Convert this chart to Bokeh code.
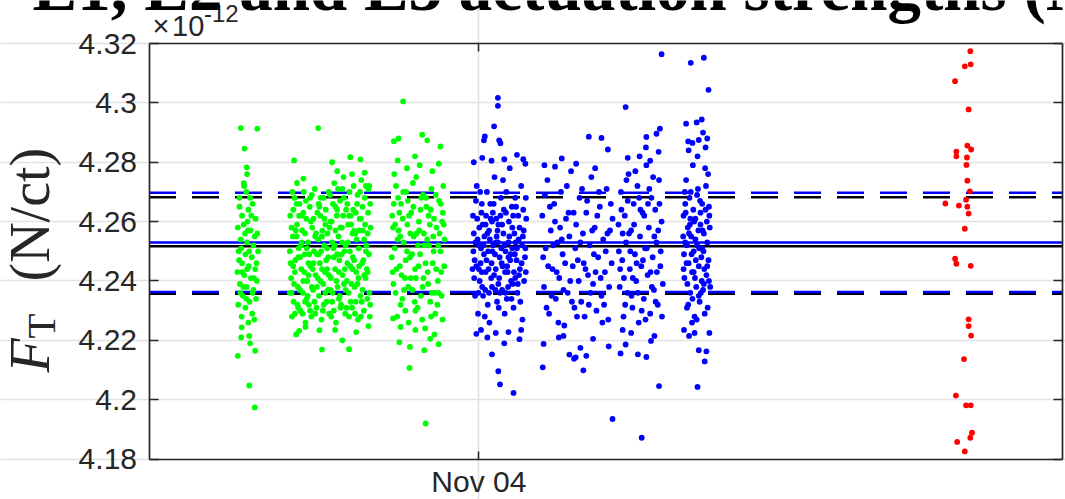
import numpy as np
import pandas as pd
from math import pi
from bokeh.plotting import figure
from bokeh.models import (Range1d, FixedTicker, DatetimeTickFormatter, DatetimeAxis,
                          LinearAxis, Grid, Label)
from bokeh.embed import file_html
from bokeh.resources import INLINE

# ---------------- data (time in minutes from Nov 04 00:00, F_T in units of 1e-12 N/ct) -------------
DAY0 = "2019-11-04T00:00"

green_points = [
    # first group
    (-566,4.268),(-550,4.270),(-535,4.266),(-560,4.262),(-545,4.264),(-528,4.261),(-570,4.258),(-556,4.259),
    (-540,4.257),(-524,4.256),(-563,4.254),(-548,4.253),(-533,4.252),(-568,4.250),(-552,4.249),(-537,4.248),
    (-522,4.250),(-560,4.246),(-544,4.245),(-529,4.244),(-571,4.243),(-555,4.242),(-539,4.241),(-525,4.240),
    (-565,4.239),(-549,4.238),(-533,4.237),(-558,4.235),(-542,4.233),(-527,4.234),(-569,4.232),(-552,4.231),
    (-536,4.229),(-561,4.228),(-545,4.226),(-531,4.227),(-566,4.265),(-541,4.268),(-555,4.272),(-530,4.255),
    (-547,4.260),(-562,4.251),(-538,4.262),(-526,4.246),(-553,4.256),(-567,4.247),(-543,4.250),(-532,4.241),
    (-557,4.238),(-548,4.244),(-535,4.236),(-564,4.236),(-550,4.234),(-560,4.243),(-546,4.257),
    (-563,4.2915),(-524,4.2913),(-554,4.2846),(-549,4.2783),(-548,4.2760),(-556,4.2730),(-561,4.2244),
    (-562,4.2210),(-543,4.2215),(-541,4.2190),(-529,4.2165),(-570,4.2148),(-543,4.2048),(-530,4.1974),
    # second group
    (-446,4.262),(-444,4.241),(-442,4.228),(-440,4.255),(-438,4.233),(-436,4.268),(-434,4.247),(-432,4.222),
    (-430,4.259),(-428,4.238),(-426,4.251),(-424,4.266),(-422,4.230),(-420,4.244),(-418,4.257),(-416,4.236),
    (-414,4.270),(-412,4.249),(-410,4.226),(-408,4.261),(-406,4.240),(-404,4.253),(-402,4.232),(-400,4.265),
    (-398,4.245),(-396,4.228),(-394,4.258),(-392,4.237),(-390,4.250),(-388,4.271),(-386,4.242),(-384,4.231),
    (-382,4.263),(-380,4.254),(-378,4.235),(-376,4.246),(-374,4.268),(-372,4.227),(-370,4.257),(-368,4.239),
    (-366,4.252),(-364,4.243),(-362,4.264),(-360,4.233),(-358,4.256),(-356,4.248),(-354,4.229),(-352,4.269),
    (-350,4.241),(-348,4.260),(-346,4.236),(-344,4.251),(-342,4.273),(-340,4.244),(-338,4.226),(-336,4.262),
    (-334,4.238),(-332,4.255),(-330,4.247),(-328,4.267),(-326,4.232),(-324,4.258),(-322,4.242),(-320,4.275),
    (-318,4.250),(-316,4.229),(-314,4.264),(-312,4.240),(-310,4.253),(-308,4.236),(-306,4.270),(-304,4.245),
    (-302,4.259),(-300,4.231),(-298,4.248),(-296,4.272),(-294,4.238),(-292,4.256),(-290,4.243),(-288,4.266),
    (-286,4.227),(-284,4.251),(-282,4.261),(-280,4.235),(-278,4.274),(-276,4.246),(-274,4.257),(-272,4.230),
    (-270,4.268),(-268,4.241),(-266,4.252),(-264,4.234),(-262,4.263),(-260,4.249),(-258,4.228),(-256,4.258),
    (-447,4.250),(-443,4.236),(-439,4.264),(-435,4.243),(-431,4.255),(-427,4.231),(-423,4.248),(-419,4.262),
    (-415,4.240),(-411,4.256),(-407,4.234),(-403,4.246),(-399,4.268),(-395,4.238),(-391,4.261),(-387,4.229),
    (-383,4.249),(-379,4.266),(-375,4.240),(-371,4.255),(-367,4.232),(-363,4.259),(-359,4.244),(-355,4.270),
    (-351,4.237),(-347,4.253),(-343,4.230),(-339,4.265),(-335,4.249),(-331,4.234),(-327,4.258),(-323,4.271),
    (-319,4.239),(-315,4.252),(-311,4.266),(-307,4.228),(-303,4.262),(-299,4.244),(-295,4.257),(-291,4.233),
    (-287,4.269),(-283,4.245),(-279,4.261),(-275,4.237),(-271,4.254),(-267,4.272),(-263,4.243),(-259,4.236),
    (-257,4.266),
    (-445,4.246),(-441,4.270),(-437,4.239),(-433,4.257),(-429,4.232),(-425,4.262),(-421,4.252),(-417,4.229),
    (-413,4.243),(-409,4.267),(-405,4.235),(-401,4.249),(-397,4.260),(-393,4.244),(-389,4.233),(-385,4.256),
    (-381,4.241),(-377,4.265),(-373,4.250),(-369,4.230),(-365,4.261),(-361,4.247),(-357,4.237),(-353,4.258),
    (-349,4.228),(-345,4.266),(-341,4.252),(-337,4.240),(-333,4.271),(-329,4.235),(-325,4.249),(-321,4.262),
    (-317,4.244),(-313,4.231),(-309,4.259),(-305,4.250),(-301,4.239),(-297,4.264),(-293,4.229),(-289,4.254),
    (-285,4.241),(-281,4.270),(-277,4.233),(-273,4.247),(-269,4.259),(-265,4.244),(-261,4.271),(-257,4.232),
    (-447,4.236),(-443,4.258),(-439,4.245),(-435,4.229),(-431,4.266),(-427,4.248),(-423,4.237),(-419,4.253),
    (-415,4.263),(-411,4.233),(-407,4.251),(-403,4.242),(-399,4.230),(-395,4.269),(-391,4.246),(-387,4.255),
    (-383,4.238),(-379,4.249),(-375,4.262),(-371,4.244),(-367,4.268),(-363,4.236),(-359,4.251),(-355,4.242),
    (-351,4.260),(-347,4.233),(-343,4.248),(-339,4.257),(-335,4.264),(-331,4.243),(-327,4.231),(-323,4.253),
    (-319,4.268),(-315,4.237),(-311,4.246),(-307,4.262),(-303,4.233),(-299,4.256),(-295,4.247),(-291,4.263),
    (-287,4.239),(-283,4.257),(-279,4.228),(-275,4.265),(-271,4.242),(-267,4.250),(-263,4.256),(-259,4.272),
    (-380,4.2915),(-437,4.2806),(-347,4.2800),(-304,4.2817),(-280,4.2810),(-371,4.2169),(-307,4.2170),
    (-323,4.2200),(-377,4.2234),(-261,4.2248),(-425,4.2232),(-410,4.2245),(-340,4.2235),(-290,4.2228),
    (-335,4.2770),(-300,4.2760),(-270,4.2765),(-415,4.2745),(-430,4.2730),
    # third group
    (-205,4.262),(-202,4.239),(-199,4.251),(-196,4.272),(-193,4.228),(-190,4.257),(-187,4.245),(-184,4.266),
    (-181,4.234),(-178,4.253),(-175,4.241),(-172,4.270),(-169,4.259),(-166,4.226),(-163,4.248),(-160,4.263),
    (-157,4.237),(-154,4.255),(-151,4.244),(-148,4.275),(-145,4.231),(-142,4.260),(-139,4.249),(-136,4.268),
    (-133,4.238),(-130,4.256),(-127,4.224),(-124,4.265),(-121,4.243),(-118,4.252),(-115,4.233),(-112,4.271),
    (-109,4.246),(-106,4.261),(-103,4.229),(-100,4.258),(-97,4.240),(-94,4.267),(-91,4.250),(-88,4.235),
    (-85,4.263),(-82,4.245),
    (-206,4.248),(-201,4.266),(-197,4.236),(-192,4.254),(-188,4.263),(-183,4.242),(-179,4.270),(-174,4.230),
    (-170,4.250),(-165,4.262),(-161,4.241),(-156,4.273),(-152,4.233),(-147,4.256),(-143,4.245),(-138,4.264),
    (-134,4.227),(-129,4.252),(-125,4.268),(-120,4.239),(-116,4.259),(-111,4.236),(-107,4.250),(-102,4.269),
    (-98,4.232),(-93,4.256),(-89,4.243),(-84,4.272),(-81,4.254),
    (-204,4.243),(-198,4.259),(-191,4.268),(-185,4.232),(-180,4.261),(-173,4.247),(-167,4.238),(-162,4.256),
    (-155,4.265),(-149,4.241),(-144,4.252),(-137,4.235),(-132,4.269),(-126,4.246),(-119,4.262),(-113,4.228),
    (-108,4.255),(-101,4.244),(-95,4.236),(-90,4.266),(-86,4.227),(-83,4.259),
    (-203,4.258),(-195,4.244),(-186,4.255),(-177,4.237),(-168,4.267),(-158,4.249),(-150,4.230),(-141,4.257),
    (-131,4.241),(-122,4.254),(-114,4.264),(-104,4.236),(-96,4.252),(-87,4.260),
    (-179,4.3005),(-201,4.2871),(-190,4.2880),(-134,4.2893),(-122,4.2874),(-91,4.2853),(-192,4.2806),
    (-151,4.2820),(-170,4.2780),(-140,4.2790),(-110,4.2770),(-95,4.2795),(-200,4.2760),
    (-203,4.2274),(-188,4.2194),(-163,4.2178),(-129,4.2167),(-95,4.2187),(-164,4.2107),(-126,4.1920),
    (-150,4.2235),(-105,4.2220),(-185,4.2245),(-115,4.2205),
]

blue_points = [
    # first group
    (-14,4.262),(-11,4.241),(-8,4.253),(-5,4.272),(-2,4.229),(1,4.258),(4,4.246),(7,4.266),(10,4.235),
    (13,4.255),(16,4.243),(19,4.270),(22,4.250),(25,4.226),(28,4.261),(31,4.238),(34,4.252),(37,4.275),
    (40,4.244),(43,4.233),(46,4.259),(49,4.248),(52,4.268),(55,4.237),(58,4.256),(61,4.229),(64,4.263),
    (67,4.245),(70,4.253),(73,4.278),(76,4.240),(79,4.258),(82,4.231),(85,4.249),(88,4.265),(91,4.236),
    (94,4.254),(97,4.244),(100,4.272),(103,4.227),(106,4.257),(109,4.248),(112,4.261),
    (-13,4.250),(-9,4.235),(-4,4.261),(0,4.244),(3,4.270),(8,4.238),(12,4.249),(17,4.262),(21,4.232),
    (26,4.254),(30,4.246),(35,4.266),(39,4.237),(44,4.257),(48,4.241),(53,4.251),(57,4.274),(62,4.243),
    (66,4.234),(71,4.260),(75,4.249),(80,4.239),(84,4.256),(89,4.247),(93,4.262),(98,4.233),(102,4.252),
    (107,4.240),(111,4.268),
    (-12,4.256),(-6,4.245),(-1,4.236),(5,4.251),(9,4.259),(14,4.228),(18,4.247),(24,4.257),(29,4.241),
    (33,4.263),(38,4.249),(42,4.255),(47,4.231),(51,4.262),(56,4.245),(60,4.252),(65,4.270),(69,4.238),
    (74,4.247),(78,4.265),(83,4.243),(87,4.253),(92,4.239),(96,4.258),(101,4.246),(105,4.264),(110,4.251),
    (-10,4.247),(-3,4.254),(2,4.240),(6,4.263),(11,4.252),(15,4.237),(20,4.256),(23,4.244),(27,4.266),
    (32,4.250),(36,4.242),(41,4.261),(45,4.253),(50,4.236),(54,4.246),(59,4.264),(63,4.250),(68,4.243),
    (72,4.255),(77,4.234),(81,4.262),(86,4.241),(90,4.251),
    (-15,4.244),(-7,4.267),(0,4.252),(7,4.243),(16,4.259),(24,4.236),(31,4.260),(40,4.253),(46,4.239),
    (55,4.259),(63,4.236),(70,4.248),(79,4.251),(86,4.268),(95,4.242),(104,4.255),(111,4.243),
    (45,4.3017),(45,4.2990),(36,4.2921),(14,4.2887),(12,4.2874),(48,4.2874),(51,4.2864),
    (-12,4.2800),(8,4.2815),(30,4.2805),(60,4.2810),(90,4.2825),(105,4.2810),(110,4.2795),
    (31,4.2153),(46,4.2096),(50,4.2052),(82,4.2023),(96,4.2204),(-6,4.2222),
    (5,4.2235),(20,4.2210),(40,4.2225),(70,4.2228),(100,4.2235),(60,4.2190),
    # second group
    (150,4.262),(154,4.238),(158,4.251),(162,4.274),(166,4.229),(170,4.257),(174,4.244),(178,4.266),
    (182,4.234),(186,4.253),(190,4.241),(194,4.270),(198,4.249),(202,4.225),(206,4.261),(210,4.236),
    (214,4.255),(218,4.277),(222,4.245),(226,4.231),(230,4.259),(234,4.247),(238,4.268),(242,4.233),
    (246,4.256),(250,4.228),(254,4.263),(258,4.242),(262,4.252),(266,4.275),(270,4.239),(274,4.258),
    (278,4.230),(282,4.248),(286,4.265),(290,4.235),(294,4.254),(298,4.243),(302,4.271),(306,4.227),
    (310,4.257),(314,4.246),
    (152,4.248),(160,4.231),(168,4.265),(176,4.252),(184,4.243),(192,4.258),(200,4.237),(208,4.272),
    (216,4.240),(224,4.263),(232,4.228),(240,4.253),(248,4.246),(256,4.267),(264,4.236),(272,4.249),
    (280,4.262),(288,4.241),(296,4.232),(304,4.256),(312,4.266),
    (156,4.269),(164,4.245),(172,4.235),(180,4.260),(188,4.226),(196,4.254),(204,4.246),(212,4.263),
    (220,4.233),(228,4.251),(236,4.240),(244,4.271),(252,4.244),(260,4.232),(268,4.257),(276,4.243),
    (284,4.270),(292,4.226),(300,4.250),(308,4.238),(316,4.261),
    (260,4.2886),(290,4.2882),(305,4.2843),(196,4.2813),(155,4.2790),(230,4.2795),(275,4.2780),(180,4.2785),
    (153,4.2188),(151,4.2109),(189,4.2210),(214,4.2152),(225,4.2138),(229,4.2143),(247,4.2099),(254,4.2148),
    (307,4.2180),(316,4.1935),(200,4.2215),(270,4.2205),(240,4.2175),
    # third group
    (330,4.259),(333,4.238),(336,4.270),(339,4.247),(342,4.228),(345,4.262),(348,4.253),(351,4.236),
    (354,4.276),(357,4.244),(360,4.257),(363,4.231),(366,4.266),(369,4.249),(372,4.240),(375,4.272),
    (378,4.226),(381,4.255),(384,4.245),(387,4.263),(390,4.234),(393,4.251),(396,4.279),(399,4.242),
    (402,4.258),(405,4.229),(408,4.268),(411,4.248),(414,4.237),(417,4.264),(420,4.253),(423,4.232),
    (426,4.274),(429,4.245),(432,4.260),(435,4.239),
    (331,4.250),(337,4.264),(343,4.241),(349,4.274),(355,4.256),(361,4.235),(367,4.259),(373,4.246),
    (379,4.268),(385,4.230),(391,4.262),(397,4.251),(403,4.271),(409,4.238),(415,4.255),(421,4.243),
    (427,4.266),(433,4.228),
    (334,4.244),(340,4.256),(346,4.232),(352,4.267),(358,4.250),(364,4.241),(370,4.277),(376,4.236),
    (382,4.264),(388,4.247),(394,4.227),(400,4.266),(406,4.243),(412,4.275),(418,4.233),(424,4.257),
    (430,4.250),
    (347,4.2986),(432,4.3164),(428,4.2913),(420,4.2896),(396,4.2885),(352,4.2815),(380,4.2820),
    (405,4.2805),(425,4.2835),(395,4.2850),
    (335,4.2156),(347,4.2186),(376,4.2153),(396,4.2144),(407,4.2198),(426,4.2046),(385,4.1872),
    (360,4.2225),(415,4.2215),(340,4.2235),
    # fourth group
    (484,4.262),(486,4.241),(488,4.253),(490,4.274),(492,4.231),(494,4.258),(496,4.246),(498,4.268),
    (500,4.236),(502,4.255),(504,4.243),(506,4.279),(508,4.250),(510,4.228),(512,4.261),(514,4.238),
    (516,4.252),(518,4.271),(520,4.245),(522,4.233),(524,4.259),(526,4.248),(528,4.266),(530,4.237),
    (532,4.256),(534,4.229),(536,4.264),(538,4.242),(540,4.253),(542,4.276),(544,4.240),(546,4.258),
    (485,4.249),(489,4.263),(493,4.239),(497,4.256),(501,4.270),(505,4.234),(509,4.260),(513,4.247),
    (517,4.282),(521,4.251),(525,4.236),(529,4.257),(533,4.244),(537,4.272),(541,4.231),(545,4.262),
    (483,4.255),(487,4.270),(491,4.246),(495,4.232),(499,4.259),(503,4.249),(507,4.264),(511,4.241),
    (515,4.227),(519,4.257),(523,4.267),(527,4.240),(531,4.250),(535,4.278),(539,4.260),(543,4.247),
    (547,4.238),
    (484,4.244),(488,4.266),(492,4.252),(496,4.284),(500,4.261),(504,4.226),(508,4.243),(512,4.254),
    (516,4.269),(520,4.235),(524,4.263),(528,4.251),(532,4.239),(536,4.285),(540,4.245),(544,4.265),
    (501,4.3135),(532,4.3152),(543,4.3044),(490,4.2930),(515,4.2934),(527,4.2944),
    (495,4.2870),(520,4.2875),(540,4.2880),(505,4.2865),(530,4.2900),
    (497,4.2215),(520,4.2167),(538,4.2163),(534,4.2129),(517,4.2043),(485,4.2235),(545,4.2225),(510,4.2225),
]

red_points = [
    (1162,4.3174),(1149,4.3123),(1163,4.3130),(1126,4.3073),(1158,4.2978),(1155,4.2856),(1164,4.2843),
    (1129,4.2836),(1129,4.2820),(1154,4.2816),(1153,4.2791),(1155,4.2738),(1161,4.2702),(1103,4.2661),
    (1135,4.2654),(1155,4.2650),(1152,4.2674),(1158,4.2627),(1149,4.2576),(1126,4.2475),(1129,4.2458),
    (1163,4.2451),(1158,4.2271),(1158,4.2248),(1164,4.2216),(1147,4.2137),(1128,4.2014),(1152,4.1981),
    (1163,4.1981),(1166,4.1889),(1162,4.1872),(1131,4.1858),(1149,4.1826),
]

# reference levels (mean and +/- band)
blue_levels = {"mean": 4.2530, "upper": 4.2697, "lower": 4.2363}
black_levels = {"mean": 4.2517, "upper": 4.2682, "lower": 4.2357}

y_ticks = [4.18, 4.20, 4.22, 4.24, 4.26, 4.28, 4.30, 4.32]
y_tick_labels = ["4.18", "4.2", "4.22", "4.24", "4.26", "4.28", "4.3", "4.32"]
y_lim = (4.18, 4.32)
x_lim = ("2019-11-03 11:00", "2019-11-04 23:00")
x_tick = "2019-11-04"
title_text = "E1, E2 and E3 actuation strengths (N/ct)"
multiplier = ("\u00d7", "10", "-12")

# ---------------- layout geometry (pixels) -------------
W, H = 1065, 499
AX_L, AX_R, AX_T, AX_B = 148.5, 1062.0, 43.0, 458.6
BASE_SHIFT = 0.4   # bokeh places the alphabetic baseline ~0.4 em below the anchor


def ms(ts):
    return pd.Timestamp(ts).value // 10**6


def to_dt(pts):
    mins = np.array([m for m, _ in pts], dtype="int64")
    return np.datetime64(DAY0) + mins.astype("timedelta64[m]")


def vals(pts):
    return np.array([v for _, v in pts], dtype=float)


x0, x1 = ms(x_lim[0]), ms(x_lim[1])
x_tick_ms = ms(x_tick)
ms_per_px = (x1 - x0) / (AX_R - AX_L)
v_per_px = (y_lim[1] - y_lim[0]) / (AX_B - AX_T)

AX = "#262626"
SANS = "Liberation Sans"
SERIF = "Liberation Serif"

p = figure(width=W, height=H, output_backend="svg", toolbar_location=None,
           x_axis_location=None, y_axis_location=None,
           x_range=Range1d(start=x0 - AX_L * ms_per_px, end=x1 + (W - AX_R) * ms_per_px),
           y_range=Range1d(start=y_lim[0] - (H - AX_B) * v_per_px, end=y_lim[1] + AX_T * v_per_px),
           min_border=0, min_border_left=0, min_border_right=0, min_border_top=0, min_border_bottom=0)
p.title.visible = False
p.background_fill_color = "white"
p.border_fill_color = "white"
p.outline_line_color = None
for g in p.grid:
    g.visible = False

# grid lines limited to the axes box
p.add_layout(Grid(dimension=1, ticker=FixedTicker(ticks=y_ticks), bounds=(x0, x1),
                  grid_line_color="#e2e2e2", grid_line_width=1.6))
p.add_layout(Grid(dimension=0, ticker=FixedTicker(ticks=[x_tick_ms]), bounds=y_lim,
                  grid_line_color="#e2e2e2", grid_line_width=1.6))

fmt_keys = ["microseconds", "milliseconds", "seconds", "minsec", "minutes",
            "hourmin", "hours", "days", "months", "years"]


def style_axis(ax, tick_in):
    ax.axis_line_color = AX
    ax.axis_line_width = 1.7
    ax.major_tick_line_color = AX
    ax.major_tick_line_width = 1.5
    ax.major_tick_in = tick_in
    ax.major_tick_out = 0
    ax.minor_tick_in = 0
    ax.minor_tick_out = 0
    ax.major_label_text_font = SANS
    ax.major_label_text_font_size = "30px"
    ax.major_label_text_color = AX


left = LinearAxis(fixed_location=x0, bounds=y_lim, ticker=FixedTicker(ticks=y_ticks),
                  major_label_overrides=dict(zip(y_ticks, y_tick_labels)), major_label_standoff=12)
right = LinearAxis(fixed_location=x1, bounds=y_lim, ticker=FixedTicker(ticks=y_ticks),
                   major_label_overrides={t: "" for t in y_ticks})
bottom = DatetimeAxis(fixed_location=y_lim[0], bounds=(x0, x1), ticker=FixedTicker(ticks=[x_tick_ms]),
                      formatter=DatetimeTickFormatter(**{k: "%b %d" for k in fmt_keys}),
                      major_label_standoff=6)
top = DatetimeAxis(fixed_location=y_lim[1], bounds=(x0, x1), ticker=FixedTicker(ticks=[x_tick_ms]),
                   major_label_overrides={x_tick_ms: ""})
style_axis(left, 9)
style_axis(right, 9)
style_axis(bottom, 8)
style_axis(top, 8)
p.add_layout(left, "left")
p.add_layout(right, "right")
p.add_layout(bottom, "below")
p.add_layout(top, "above")

# reference lines (under the points)
for levels, col in ((black_levels, "black"), (blue_levels, "#0000ff")):
    for key, dash in (("mean", "solid"), ("upper", "27 16"), ("lower", "27 16")):
        p.line(x=[x0, x1], y=[levels[key], levels[key]], line_color=col,
               line_width=2.5, line_dash=dash)

for pts, col in ((green_points, "#00ff00"), (blue_points, "#0000ff"), (red_points, "#ff0000")):
    p.scatter(x=to_dt(pts), y=vals(pts), size=5.8, fill_color=col, line_color=None)


def label(text, x, y_base, size, angle=0.0, **kw):
    # x, y_base: baseline anchor in pixels from the top-left corner of the canvas
    shift = BASE_SHIFT * size
    if angle:
        x = x - shift          # rotated text: "down" points to +x
    else:
        y_base = y_base - shift
    p.add_layout(Label(x=x, y=H - y_base, x_units="screen", y_units="screen", text=text,
                       angle=angle, text_font_size=f"{size}px",
                       text_align="left", text_baseline="alphabetic", **kw))


# multiplier  x10^-12
label(multiplier[0], 152, 37, 29, text_font=SANS, text_color=AX)
label(multiplier[1], 171.5, 37, 29, text_font=SANS, text_color=AX)
label(multiplier[2], 203.5, 22.7, 24, text_font=SANS, text_color=AX)

# title (mostly above the visible page)
label(title_text, 32, 13, 67, text_font=SERIF, text_font_style="bold", text_color="black")

# y label: F_T (N/ct)
label("F", 51.5, 372, 56, angle=pi / 2, text_font=SERIF, text_font_style="italic", text_color=AX)
label("T", 57, 338, 41, angle=pi / 2, text_font=SERIF, text_color=AX)
label("(N/ct)", 52, 281, 56, angle=pi / 2, text_font=SERIF, text_color=AX)

open("out.html", "w").write(file_html(p, INLINE))
